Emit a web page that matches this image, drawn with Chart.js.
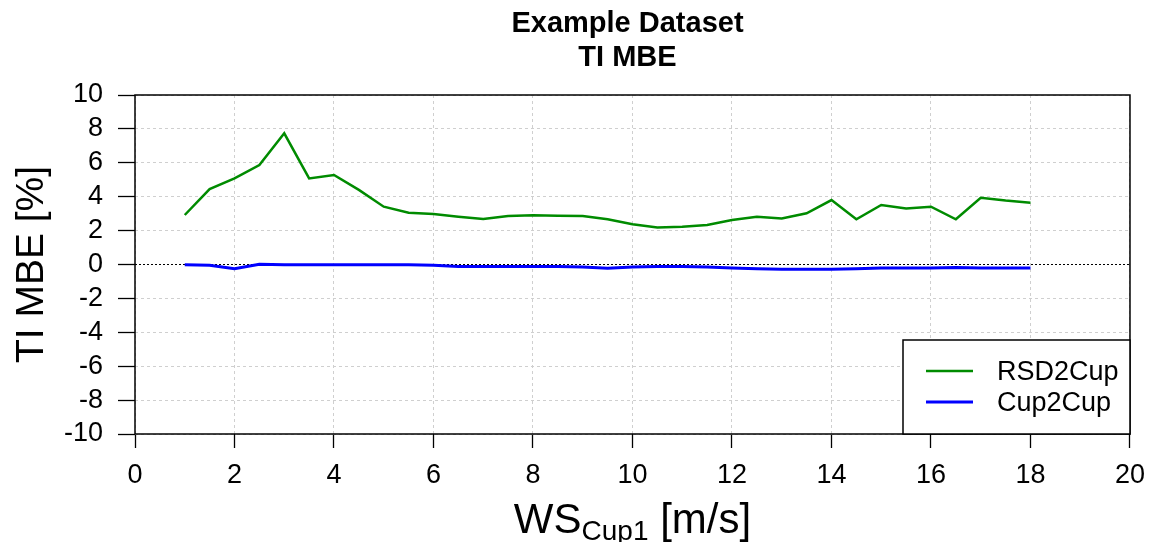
<!DOCTYPE html>
<html>
<head>
<meta charset="utf-8">
<title>TI MBE</title>
<script src="https://cdn.jsdelivr.net/npm/chart.js@4"></script>
<style>
  html, body { margin: 0; padding: 0; background: #fff; }
  #wrap { width: 1156px; height: 542px; position: relative; }
</style>
</head>
<body>
<div id="wrap"><canvas id="chart-timbe"></canvas></div>
<script>
// wind speed bins [m/s]
const windSpeeds = [
    1.0, 1.5, 2.0, 2.5, 3.0, 3.5, 4.0, 4.5, 5.0, 5.5, 6.0, 6.5,
    7.0, 7.5, 8.0, 8.5, 9.0, 9.5, 10.0, 10.5, 11.0, 11.5, 12.0, 12.5,
    13.0, 13.5, 14.0, 14.5, 15.0, 15.5, 16.0, 16.5, 17.0, 17.5, 18.0,
];

// TI mean bias error [%]
const rsd2cup = [
    2.92, 4.45, 5.08, 5.87, 7.74, 5.08, 5.28, 4.40, 3.41, 3.06, 2.98, 2.82,
    2.68, 2.86, 2.90, 2.88, 2.86, 2.67, 2.37, 2.19, 2.23, 2.33, 2.63, 2.82,
    2.72, 3.02, 3.80, 2.67, 3.51, 3.31, 3.41, 2.67, 3.94, 3.77, 3.65,
];
const cup2cup = [
    -0.02, -0.05, -0.25, 0.02, -0.02, -0.02, -0.02, -0.02, -0.02, -0.02, -0.05, -0.12,
    -0.12, -0.12, -0.12, -0.12, -0.15, -0.22, -0.15, -0.12, -0.12, -0.15, -0.20, -0.25,
    -0.28, -0.28, -0.28, -0.25, -0.20, -0.20, -0.20, -0.18, -0.20, -0.20, -0.20,
];

const seriesNames = ['RSD2Cup', 'Cup2Cup'];
const titleLines = ['Example Dataset', 'TI MBE'];

const FONT = "'Liberation Sans', Arial, sans-serif";
Chart.defaults.font.family = FONT;
Chart.defaults.color = '#000';

const toPoints = ys => windSpeeds.map((x, i) => ({ x, y: ys[i] }));

/* ── Titles, frame and legend box ───────────────────────────────────── */
const decorations = {
    id: 'decorations',
    afterDraw(chart) {
        const { ctx, chartArea: a } = chart;
        const cx = (a.left + a.right) / 2;
        ctx.save();

        // plot frame
        ctx.strokeStyle = '#000';
        ctx.lineWidth = 1.5;
        ctx.strokeRect(a.left, a.top, a.right - a.left, a.bottom - a.top);

        // main title
        ctx.fillStyle = '#000';
        ctx.textAlign = 'center';
        ctx.textBaseline = 'alphabetic';
        ctx.font = `bold 29px ${FONT}`;
        ctx.fillText(titleLines[0], cx - 5, 32);
        ctx.fillText(titleLines[1], cx - 5, 66);

        // y axis title
        ctx.save();
        ctx.translate(43, (a.top + a.bottom) / 2);
        ctx.rotate(-Math.PI / 2);
        ctx.font = `39px ${FONT}`;
        ctx.fillText('TI MBE [%]', 0, 0);
        ctx.restore();

        // x axis title with subscript
        const big = `42px ${FONT}`, small = `28px ${FONT}`;
        ctx.font = big;
        const w1 = ctx.measureText('WS').width;
        const w3 = ctx.measureText(' [m/s]').width;
        ctx.font = small;
        const w2 = ctx.measureText('Cup1').width;
        let x = cx - (w1 + w2 + w3) / 2;
        ctx.textAlign = 'left';
        ctx.font = big;
        ctx.fillText('WS', x, 533);
        x += w1;
        ctx.font = small;
        ctx.fillText('Cup1', x, 540);
        x += w2;
        ctx.font = big;
        ctx.fillText(' [m/s]', x, 533);

        // legend
        const lx = 903, ly = 340;
        ctx.fillStyle = '#fff';
        ctx.fillRect(lx, ly, a.right - lx, a.bottom - ly);
        ctx.strokeStyle = '#000';
        ctx.lineWidth = 1.5;
        ctx.strokeRect(lx, ly, a.right - lx, a.bottom - ly);
        ctx.font = `27px ${FONT}`;
        ctx.textBaseline = 'middle';
        chart.data.datasets.forEach((ds, i) => {
            const y = ly + 31 + i * 31;
            ctx.strokeStyle = ds.borderColor;
            ctx.lineWidth = ds.borderWidth;
            ctx.beginPath();
            ctx.moveTo(lx + 23, y);
            ctx.lineTo(lx + 70, y);
            ctx.stroke();
            ctx.fillStyle = '#000';
            ctx.fillText(ds.label, lx + 94, y + 2);
        });
        ctx.restore();
    },
};

new Chart(document.getElementById('chart-timbe'), {
    type: 'line',
    data: {
        datasets: [
            {
                label: seriesNames[0],
                data: toPoints(rsd2cup),
                borderColor: '#008b00',
                borderWidth: 2.5,
                pointRadius: 0,
                tension: 0,
            },
            {
                label: seriesNames[1],
                data: toPoints(cup2cup),
                borderColor: '#0000ff',
                borderWidth: 3,
                pointRadius: 0,
                tension: 0,
            },
        ],
    },
    options: {
        responsive: true,
        maintainAspectRatio: false,
        animation: false,
        layout: { padding: { top: 95, right: 26, left: 0, bottom: 0 } },
        scales: {
            x: {
                type: 'linear',
                min: 0,
                max: 20,
                afterFit: s => { s.height = 108; },
                ticks: { stepSize: 2, autoSkip: false, padding: 11, font: { size: 27 }, color: '#000', maxRotation: 0 },
                grid: {
                    color: '#cfcfcf',
                    lineWidth: 1,
                    tickColor: '#000',
                    tickLength: 14,
                    tickWidth: 1.3,
                },
                border: { display: false, dash: [3, 3] },
            },
            y: {
                min: -10,
                max: 10,
                afterFit: s => { s.width = 135; },
                ticks: { stepSize: 2, autoSkip: false, padding: 15, font: { size: 27 }, color: '#000' },
                grid: {
                    color: c => (c.tick && c.tick.value === 0 ? '#000' : '#cfcfcf'),
                    lineWidth: 1,
                    tickColor: '#000',
                    tickLength: 17,
                    tickWidth: 1.3,
                },
                border: {
                    display: false,
                    dash: c => (c.tick && c.tick.value === 0 ? [2, 2] : [3, 3]),
                },
            },
        },
        plugins: {
            legend: { display: false },
            title: { display: false },
            tooltip: { enabled: false },
        },
    },
    plugins: [decorations],
});
</script>
</body>
</html>
